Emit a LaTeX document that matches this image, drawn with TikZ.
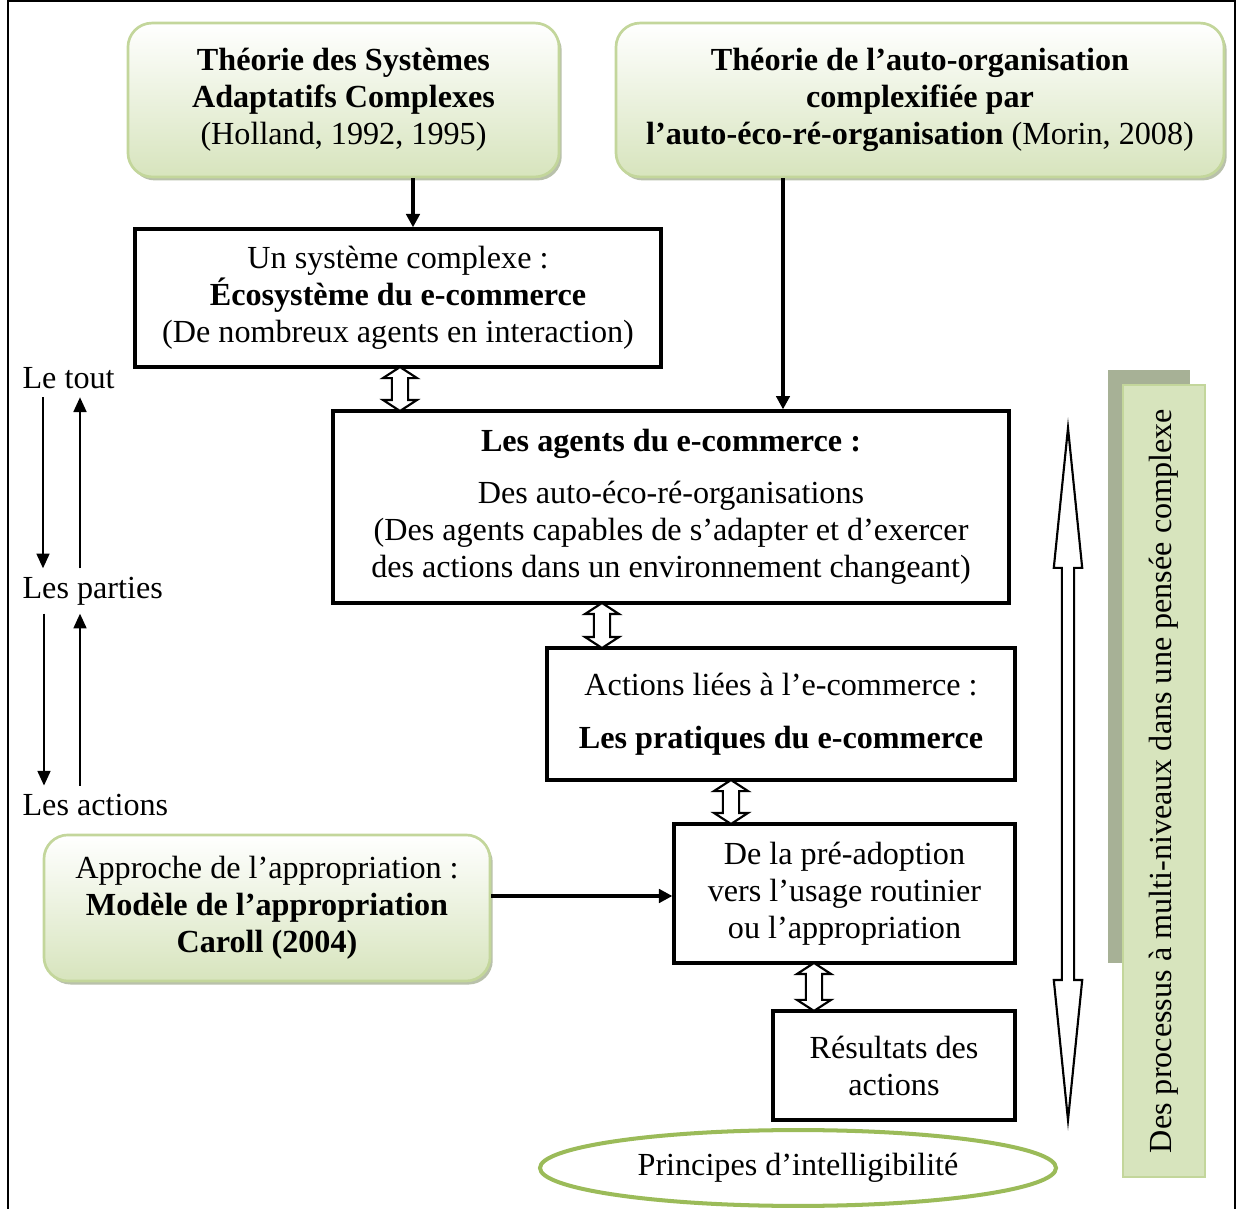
\documentclass[tikz,border=0pt]{standalone}
\usepackage{fontspec}
\setmainfont{Liberation Serif}
\usetikzlibrary{arrows.meta,calc,positioning,shapes.arrows,shapes.geometric,shadows}
\definecolor{vertclair}{HTML}{D7E4BD}
\definecolor{vertbord}{HTML}{C3D69B}
\definecolor{vertfonce}{HTML}{9BBB59}
\definecolor{ombre}{HTML}{A7B196}
\tikzset{
>=Triangle,
theorie/.style={rounded corners=9pt,draw=vertbord,line width=1pt,top color=white,bottom color=vertclair,align=center,
  drop shadow={shadow xshift=1pt,shadow yshift=-1.3pt,fill=ombre,opacity=.8}},
boite/.style={draw,line width=1.2pt,align=center,inner sep=0pt},
fleche/.style={-{Triangle[length=5pt,width=5pt]},line width=1.3pt},
niveau/.style={-{Triangle[length=5.5pt,width=4.8pt]},line width=.8pt},
lien/.style={double arrow,draw,line width=.8pt,fill=white,rotate=90,inner xsep=0pt,inner ysep=2.6pt,
  minimum width=12.7pt,double arrow head extend=3.3pt,double arrow tip angle=114},
etiquette/.style={anchor=west,inner sep=3pt}}

\begin{document}
\begin{tikzpicture}[x=0.373pt,y=-0.373pt,font=\fontsize{12}{13.8}\selectfont]

\useasboundingbox (0,0) rectangle (1237,1209);
\draw[line width=1pt] (8,1209) -- (8,1) -- (1235,1) -- (1235,1209);

% theories
\node[theorie,minimum width=160.8pt,minimum height=57.4pt] (sac) at (343.5,100)
	{\textbf{Théorie des Systèmes}\\\textbf{Adaptatifs Complexes}\\(Holland, 1992, 1995)};
\node[theorie,minimum width=226.8pt,minimum height=57.4pt] (autoorg) at (920,100)
	{\textbf{Théorie de l’auto-organisation}\\\textbf{complexifiée par}\\\textbf{l’auto-éco-ré-organisation} (Morin, 2008)};
\node[theorie,minimum width=166.4pt,minimum height=54.5pt] (appro) at (267,908)
	{Approche de l’appropriation :\\\textbf{Modèle de l’appropriation}\\\textbf{Caroll (2004)}};

% niveaux
\node[boite,minimum width=196.2pt,minimum height=51.5pt] (ecosys) at (398,298)
	{Un système complexe :\\\textbf{Écosystème du e-commerce}\\(De nombreux agents en interaction)};
\node[boite,minimum width=252.1pt,minimum height=71.6pt] (agents) at (671,507)
	{\textbf{Les agents du e-commerce :}\\[5.5pt]Des auto-éco-ré-organisations\\(Des agents capables de s’adapter et d’exercer\\des actions dans un environnement changeant)};
\node[boite,minimum width=174.6pt,minimum height=49.2pt] (pratiques) at (781,714)
	{Actions liées à l’e-commerce :\\[6pt]\textbf{Les pratiques du e-commerce}};
\node[boite,minimum width=127.2pt,minimum height=51.8pt] (adoption) at (844.5,893.5)
	{De la pré-adoption\\vers l’usage routinier\\ou l’appropriation};
\node[boite,minimum width=90.3pt,minimum height=40.7pt] (resultats) at (894,1065.5)
	{Résultats des\\actions};
\node[ellipse,draw=vertfonce,line width=1.5pt,minimum width=192.5pt,minimum height=28.3pt,inner sep=0pt] (principes) at (798,1168)
	{Principes d’intelligibilité};

% processus
\fill[ombre] (1108,370) rectangle (1190,963);
\node[draw=vertbord,line width=1pt,fill=vertclair,minimum width=30.6pt,minimum height=295.4pt,inner sep=0pt] (processus) at (1164,781)
	{\rotatebox{90}{Des processus à multi-niveaux dans une pensée complexe}};
\node[lien,inner ysep=1.9pt,minimum height=258.1pt,minimum width=10.4pt,double arrow head extend=3pt,double arrow tip angle=11.6] (monte) at (1068,774) {};

% le tout / les parties
\node[etiquette] (tout) at (14,378) {Le tout};
\node[etiquette] (parties) at (14,591) {Les parties};
\node[etiquette] (actions) at (14,805) {Les actions};
\draw[niveau] (tout.south -| 43,0) -- (parties.north -| 43,0);
\draw[niveau] (parties.north -| 80,0) -- (tout.south -| 80,0);
\draw[niveau] (parties.south -| 44,0) -- (actions.north -| 44,0);
\draw[niveau] (actions.north -| 80,0) -- (parties.south -| 80,0);

% fleches
\draw[fleche] (sac.south -| 413,0) -- (ecosys.north -| 413,0);
\draw[fleche] (autoorg.south -| 783,0) -- (agents.north -| 783,0);
\draw[fleche] (appro.east |- 0,896) -- (adoption.west |- 0,896);

\node[lien,minimum height=16.4pt] (l1) at ($(ecosys.south -| 400,0)!.5!(agents.north -| 400,0)$) {};
\node[lien,minimum height=16.8pt] (l2) at ($(agents.south -| 602,0)!.5!(pratiques.north -| 602,0)$) {};
\node[lien,minimum height=16.4pt] (l3) at ($(pratiques.south -| 731,0)!.5!(adoption.north -| 731,0)$) {};
\node[lien,minimum height=17.9pt] (l4) at ($(adoption.south -| 814,0)!.5!(resultats.north -| 814,0)$) {};
\end{tikzpicture}
\end{document}
